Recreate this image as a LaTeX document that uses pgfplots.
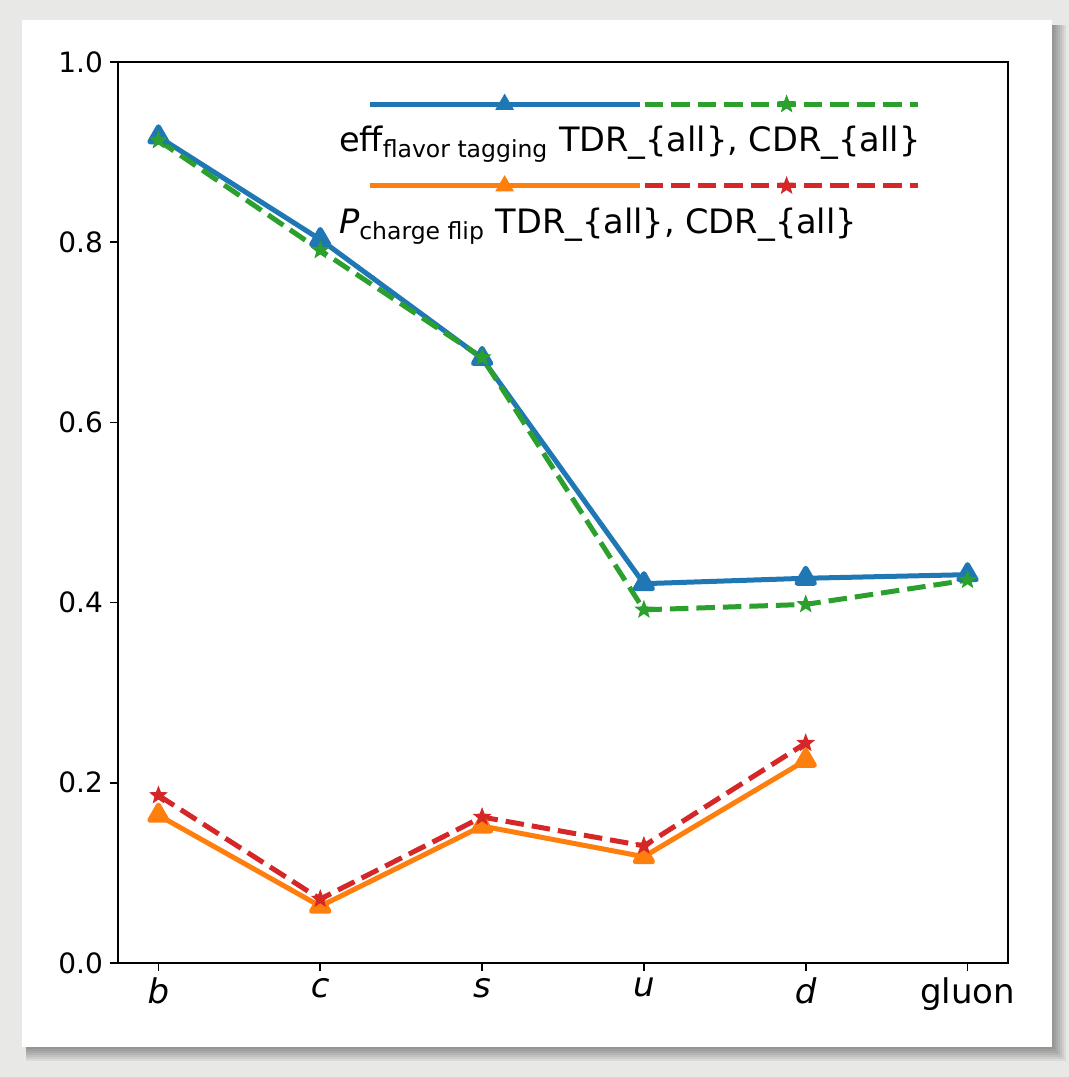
\documentclass[border=0pt]{standalone}
\usepackage{fontspec}
\setmainfont{DejaVu Sans}
\usepackage{pgfplots}
\pgfplotsset{compat=1.18}

\definecolor{tabblue}{HTML}{1F77B4}
\definecolor{taborange}{HTML}{FF7F0E}
\definecolor{tabgreen}{HTML}{2CA02C}
\definecolor{tabred}{HTML}{D62728}
\definecolor{paper}{HTML}{E8E8E6}

% filled five-pointed star
\pgfdeclareplotmark{fstar}{%
  \pgfpathmoveto{\pgfpointpolar{90}{\pgfplotmarksize}}%
  \pgfpathlineto{\pgfpointpolar{126}{0.42\pgfplotmarksize}}%
  \pgfpathlineto{\pgfpointpolar{162}{\pgfplotmarksize}}%
  \pgfpathlineto{\pgfpointpolar{198}{0.42\pgfplotmarksize}}%
  \pgfpathlineto{\pgfpointpolar{234}{\pgfplotmarksize}}%
  \pgfpathlineto{\pgfpointpolar{270}{0.42\pgfplotmarksize}}%
  \pgfpathlineto{\pgfpointpolar{306}{\pgfplotmarksize}}%
  \pgfpathlineto{\pgfpointpolar{342}{0.42\pgfplotmarksize}}%
  \pgfpathlineto{\pgfpointpolar{18}{\pgfplotmarksize}}%
  \pgfpathlineto{\pgfpointpolar{54}{0.42\pgfplotmarksize}}%
  \pgfpathclose
  \pgfusepathqfillstroke
}

\begin{document}
\begin{tikzpicture}[x=1pt,y=1pt]
% paper, shadow and card
\fill[paper] (-59,-57) rectangle (475.5,481.5);
\useasboundingbox (-59,-57) rectangle (475.5,481.5);
\foreach \s in {0,1,...,7}
  \fill[black,opacity=0.06] (-46,{-42-\s}) rectangle ({467+\s},469);
\fill[white] (-48,-42) rectangle (467,471.5);

\begin{axis}[
  at={(0,0)}, anchor=south west,
  scale only axis, width=445pt, height=450.5pt,
  xmin=-0.25, xmax=5.25, ymin=0, ymax=1,
  xtick={0,1,2,3,4,5},
  xticklabels={\textit{b},\textit{c},\textit{s},\textit{u},\textit{d},gluon},
  ytick={0,0.2,0.4,0.6,0.8,1.0},
  yticklabel style={font=\fontsize{14}{16}\selectfont,
    /pgf/number format/.cd, fixed, fixed zerofill, precision=1},
  xticklabel style={font=\fontsize{17}{20}\selectfont},
  /pgf/number format/assume math mode=true,
  tick align=outside, xtick pos=bottom, ytick pos=left,
  major tick length=4pt,
  tick style={black, line width=0.8pt},
  axis line style={line width=0.8pt},
  legend style={at={(rel axis cs:0.2425,0.9337)}, anchor=north west,
    draw=none, fill=none, inner sep=0pt, row sep=22.5pt,
    font=\fontsize{16.8}{20}\selectfont},
  legend cell align=left,
]
\addplot[tabblue, line width=2.5pt, line join=round, mark=triangle*, mark size=5pt, forget plot]
  coordinates {(0,0.917) (1,0.803) (2,0.671) (3,0.421) (4,0.427) (5,0.431)};
\addplot[tabgreen, line width=2.5pt, dash pattern=on 9.25pt off 4pt, mark=fstar, mark size=4.25pt, mark options={solid, line width=0.5pt}, forget plot]
  coordinates {(0,0.913) (1,0.791) (2,0.672) (3,0.392) (4,0.398) (5,0.425)};
\addplot[taborange, line width=2.5pt, line join=round, mark=triangle*, mark size=5pt, forget plot]
  coordinates {(0,0.164) (1,0.063) (2,0.152) (3,0.118) (4,0.225)};
\addplot[tabred, line width=2.5pt, dash pattern=on 9.25pt off 4pt, mark=fstar, mark size=4.25pt, mark options={solid, line width=0.5pt}, forget plot]
  coordinates {(0,0.186) (1,0.071) (2,0.162) (3,0.130) (4,0.244)};

\addlegendimage{legend image code/.code={
  \path (0pt,0pt);
  \draw[overlay, tabblue, line width=2.5pt] (17.5pt,18pt) -- (152.5pt,18pt);
  \draw[overlay, tabblue, mark=triangle*, mark size=5pt] plot coordinates {(85pt,18pt)};
  \draw[overlay, tabgreen, line width=2.5pt, dash pattern=on 9.25pt off 4pt] (155pt,18pt) -- (291.5pt,18pt);
  \draw[overlay, tabgreen, mark=fstar, mark size=4.25pt, line width=0.5pt] plot coordinates {(226pt,18pt)};
}}
\addlegendentry{eff\textsubscript{flavor tagging} TDR\_\{all\}, CDR\_\{all\}}
\addlegendimage{legend image code/.code={
  \path (0pt,0pt);
  \draw[overlay, taborange, line width=2.5pt] (17.5pt,18pt) -- (152.5pt,18pt);
  \draw[overlay, taborange, mark=triangle*, mark size=5pt] plot coordinates {(85pt,18pt)};
  \draw[overlay, tabred, line width=2.5pt, dash pattern=on 9.25pt off 4pt] (155pt,18pt) -- (291.5pt,18pt);
  \draw[overlay, tabred, mark=fstar, mark size=4.25pt, line width=0.5pt] plot coordinates {(226pt,18pt)};
}}
\addlegendentry{\textit{P}\textsubscript{charge flip} TDR\_\{all\}, CDR\_\{all\}}
\end{axis}
\end{tikzpicture}
\end{document}
